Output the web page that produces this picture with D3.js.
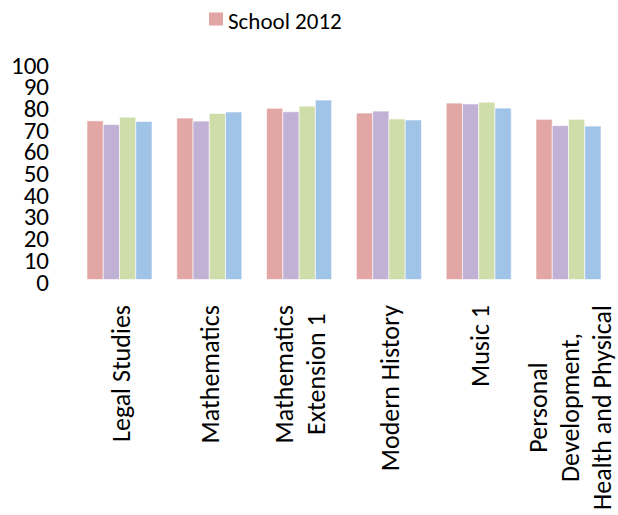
<!DOCTYPE html>
<html>
<head>
<meta charset="utf-8">
<script src="https://cdn.jsdelivr.net/npm/d3@7"></script>
<style>
  html, body { margin: 0; padding: 0; background: #ffffff; }
  svg { display: block; font-family: Carlito, Calibri, Lato, sans-serif; }
</style>
</head>
<body>
<svg id="chart" width="618" height="515"></svg>
<script>
const categories = [
  ["Legal Studies"],
  ["Mathematics"],
  ["Mathematics", "Extension 1"],
  ["Modern History"],
  ["Music 1"],
  ["Personal", "Development,", "Health and Physical"]
];
const seriesNames = ["School 2012", "School 2013", "State 2012", "State 2013"];
const seriesColors = ["#E2A6A5", "#C1B1D4", "#CFDDAA", "#A0C3E8"];
const school2012 = [73.1, 74.4, 78.9, 76.7, 81.3, 73.8];
const school2013 = [71.4, 73.0, 77.3, 77.6, 80.9, 70.9];
const state2012  = [74.8, 76.5, 79.9, 74.0, 81.7, 73.8];
const state2013  = [72.8, 77.2, 82.7, 73.5, 79.0, 70.7];
const seriesValues = [school2012, school2013, state2012, state2013];
const yTicks = [0, 10, 20, 30, 40, 50, 60, 70, 80, 90, 100];
const legendShown = ["School 2012"];

const svg = d3.select("#chart");
const catKeys = categories.map(c => c.join(" "));

const x = d3.scaleBand().domain(catKeys).range([74.6, 613.4])
  .paddingInner(0.276).paddingOuter(0.138);
const xs = d3.scaleBand().domain(seriesNames).range([0, x.bandwidth()]).padding(0);
const y = d3.scaleLinear().domain([0, 100]).range([279.5, 62.5]);

// bars
const groups = svg.append("g").selectAll("g").data(catKeys).join("g")
  .attr("transform", d => `translate(${x(d)},0)`);
groups.selectAll("rect")
  .data((d, i) => seriesNames.map((s, j) => ({ s, j, v: seriesValues[j][i] })))
  .join("rect")
  .attr("x", d => xs(d.s))
  .attr("width", xs.bandwidth())
  .attr("y", d => y(d.v))
  .attr("height", d => y(0) - y(d.v))
  .attr("fill", d => seriesColors[d.j])
  .attr("stroke", "rgba(255,255,255,0.6)")
  .attr("stroke-width", 1);

// y axis
const yAxis = d3.axisLeft(y).tickValues(yTicks).tickSize(0).tickPadding(3);
const yg = svg.append("g").attr("transform", "translate(52,0)").call(yAxis);
yg.select(".domain").remove();
yg.selectAll("text")
  .attr("font-family", "Carlito, Calibri, Lato, sans-serif")
  .attr("font-size", 25)
  .attr("fill", "#000")
  .attr("dy", "0.42em");

// category labels (rotated, wrapped lines centred)
const topY = 305, lh = 32, fs = 26;
catKeys.forEach((k, i) => {
  const lines = categories[i];
  const cx = x(k) + x.bandwidth() / 2;
  const g = svg.append("g");
  const texts = lines.map((ln, li) => g.append("text")
    .attr("font-size", fs)
    .attr("fill", "#000")
    .attr("text-anchor", "middle")
    .text(ln));
  const maxLen = d3.max(texts, t => t.node().getComputedTextLength());
  const cy = topY + maxLen / 2;
  texts.forEach((t, li) => {
    const bx = cx + (li - (lines.length - 1) / 2) * lh + 10;
    t.attr("transform", `translate(${bx},${cy}) rotate(-90)`);
  });
});

// legend
const lg = svg.append("g");
legendShown.forEach((name, i) => {
  const j = seriesNames.indexOf(name);
  lg.append("rect").attr("x", 209).attr("y", 12.5).attr("width", 14).attr("height", 13)
    .attr("fill", seriesColors[j]);
  lg.append("text").attr("x", 228).attr("y", 29.3)
    .attr("font-size", 23).attr("fill", "#000").text(name);
});
</script>
</body>
</html>
